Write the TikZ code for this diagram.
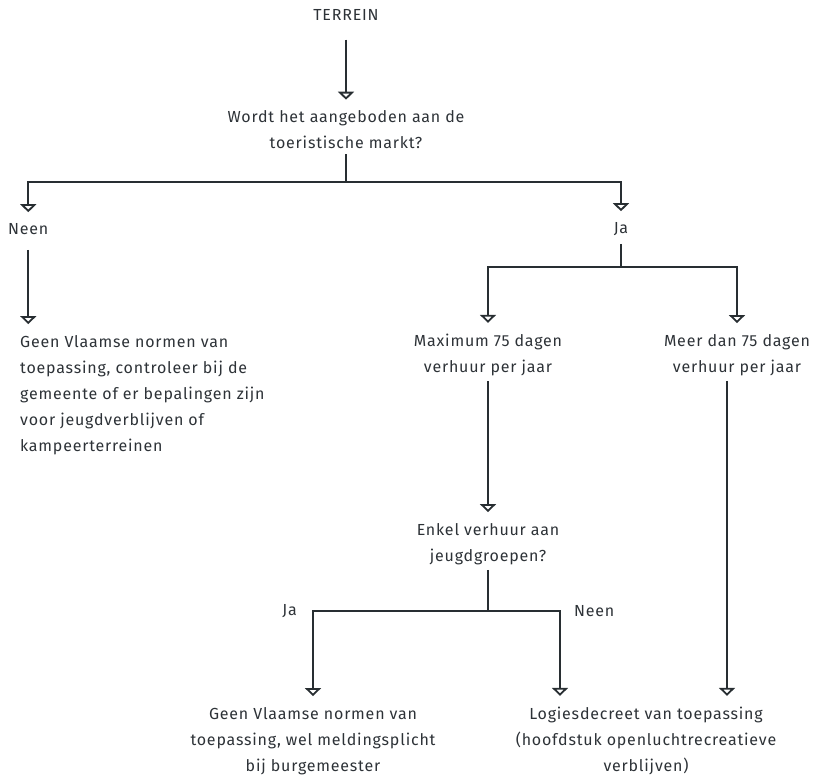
\documentclass[tikz,border=0pt]{standalone}
\usepackage{fontspec}
\setmainfont[LetterSpace=5]{Fira Sans}
\definecolor{flowGray}{RGB}{40,46,50}
\definecolor{flowText}{RGB}{45,50,55}
\usetikzlibrary{arrows.meta,positioning,calc}
\tikzset{
  label/.style={inner sep=0pt, text=flowText, align=center,
        font=\fontsize{16}{26}\selectfont},
  flow/.style={draw=flowGray, line width=1.8pt,
        -{Triangle[open, length=8pt, width=16pt, line width=1.8pt]},
        shorten <=5pt, shorten >=11pt},
  joint/.style={draw=flowGray, line width=1.8pt, shorten <=5pt}
}

\begin{document}
\begin{tikzpicture}[x=1pt, y=-1pt]
  \useasboundingbox (0,0) rectangle (838,776);

  % top question
  \node[label] (terrein) at (346,15) {TERREIN};
  \node[label] (markt) at (346,130)
    {Wordt het aangeboden aan de\\toeristische markt?};
  \coordinate (splitMarkt) at (346,182);

  % first answers
  \node[label, anchor=west] (neenMarkt) at (8,229) {Neen};
  \node[label] (jaMarkt) at (621,229) {Ja};
  \node[label, anchor=west, align=left] (geenNormen) at (20,395)
    {Geen Vlaamse normen van\\toepassing, controleer bij de\\gemeente of er bepalingen zijn\\voor jeugdverblijven of\\kampeerterreinen};
  \coordinate (splitJa) at (621,267);

  % duration
  \node[label] (maxDagen) at (488,355) {Maximum 75 dagen\\verhuur per jaar};
  \node[label] (meerDagen) at (737,355) {Meer dan 75 dagen\\verhuur per jaar};
  \node[label] (jeugd) at (488,544) {Enkel verhuur aan\\jeugdgroepen?};
  \coordinate (splitJeugd) at (488,611);

  % last answers
  \node[label, anchor=east] (jaJeugd) at (297,611) {Ja};
  \node[label, anchor=west] (neenJeugd) at (574,611) {Neen};
  \node[label] (meldingsplicht) at (313,741)
    {Geen Vlaamse normen van\\toepassing, wel meldingsplicht\\bij burgemeester};
  \node[label] (logies) at (646,741)
    {Logiesdecreet van toepassing\\(hoofdstuk openluchtrecreatieve\\verblijven)};

  \draw[flow, shorten <=19pt] (terrein) -- (markt);
  \draw[joint] (markt) -- (splitMarkt);
  \draw[flow, shorten <=0pt] (splitMarkt) -| (neenMarkt);
  \draw[flow, shorten <=0pt] (splitMarkt) -| (jaMarkt);
  \draw[flow, shorten <=15pt] (neenMarkt) -- (neenMarkt |- geenNormen.north);
  \draw[joint, shorten <=8pt] (jaMarkt) -- (splitJa);
  \draw[flow, shorten <=0pt] (splitJa) -| (maxDagen);
  \draw[flow, shorten <=0pt] (splitJa) -| (meerDagen);
  \draw[flow] (maxDagen) -- (jeugd);
  \draw[flow] ([xshift=-10pt]meerDagen.south) -- ([xshift=-10pt]meerDagen.south |- logies.north);
  \draw[joint] (jeugd) -- (splitJeugd);
  \draw[flow, shorten <=0pt] (splitJeugd) -| (meldingsplicht);
  \draw[flow, shorten <=0pt] (splitJeugd) -| ([xshift=-14pt]neenJeugd.west |- logies.north);
\end{tikzpicture}
\end{document}
